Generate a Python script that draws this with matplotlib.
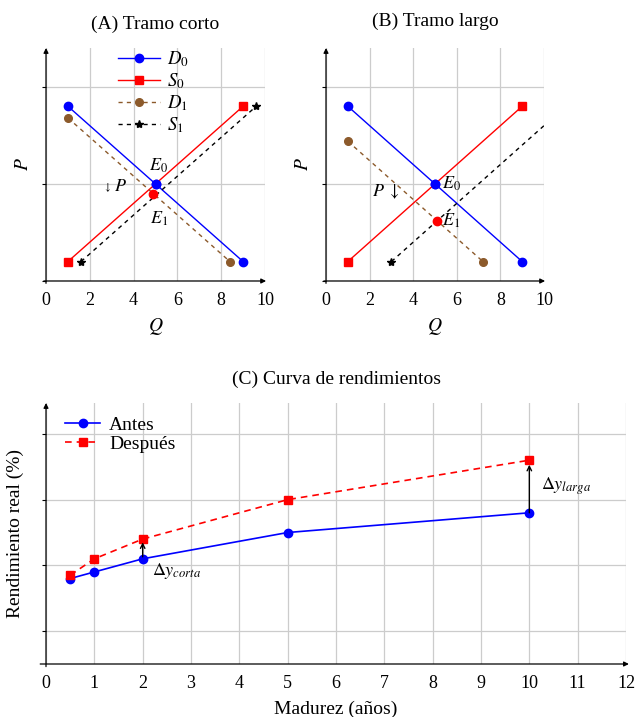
import matplotlib
matplotlib.use("Agg")
import matplotlib.pyplot as plt

plt.rcParams['font.family'] = ['Liberation Serif', 'DejaVu Serif']
plt.rcParams['mathtext.fontset'] = 'stix'

# (A) Tramo corto
a_d0_q = [1, 5, 9]
a_d0_p = [9, 5, 1]
a_s0_q = [1, 9]
a_s0_p = [1, 9]
a_d1_q = [1, 8.4]
a_d1_p = [8.4, 1]
a_s1_q = [1.6, 9.6]
a_s1_p = [1, 9]
a_e1 = (4.9, 4.5)

# (B) Tramo largo
b_d0_q = [1, 5, 9]
b_d0_p = [9, 5, 1]
b_s0_q = [1, 9]
b_s0_p = [1, 9]
b_d1_q = [1, 7.2]
b_d1_p = [7.2, 1]
b_s1_q = [3, 11]
b_s1_p = [1, 9]
b_e1 = (5.1, 3.1)

# (C) Curva de rendimientos
madurez = [0.5, 1, 2, 5, 10]
antes = [1.8, 1.9, 2.1, 2.5, 2.8]
despues = [1.85, 2.1, 2.4, 3.0, 3.6]

BLUE = '#0000ff'
RED = '#ff0000'
BROWN = '#8c5a2b'
GRID = '#cccccc'


def style_axes(ax, xlim, ylim, xticks, yticks):
    ax.set_xlim(*xlim)
    ax.set_ylim(*ylim)
    ax.set_xticks(xticks)
    ax.set_yticks(yticks)
    ax.set_yticklabels([])
    ax.grid(True, color=GRID, lw=0.9)
    ax.set_axisbelow(True)
    for side in ['top', 'right', 'left', 'bottom']:
        ax.spines[side].set_visible(False)
    ax.tick_params(axis='both', direction='out', length=3, width=0.8, labelsize=13, pad=3)
    ax.tick_params(axis='x', length=0, pad=8)
    arrow = dict(arrowstyle='-|>', lw=0.9, color='black', mutation_scale=7, shrinkA=0, shrinkB=0)
    ax.annotate('', xy=(1.005, 0), xytext=(-0.01, 0), xycoords='axes fraction', arrowprops=arrow)
    ax.annotate('', xy=(0, 1.0), xytext=(0, -0.01), xycoords='axes fraction', arrowprops=arrow)


def supply_demand(ax, d0, s0, d1, s1, e1):
    ax.plot(d0[0], d0[1], '-o', color=BLUE, lw=1, ms=6, label='$D_0$', zorder=3)
    ax.plot(s0[0], s0[1], '-s', color=RED, lw=1, ms=6, label='$S_0$', zorder=3)
    ax.plot(d1[0], d1[1], '--o', color=BROWN, lw=1, ms=5.5, dashes=(3, 3), label='$D_1$', zorder=3)
    ax.plot(s1[0], s1[1], '--*', color='black', lw=1, ms=6, dashes=(3, 3), label='$S_1$', zorder=3)
    ax.plot([e1[0]], [e1[1]], 'o', color=RED, ms=6, zorder=4)
    ax.plot([5], [5], 'o', color=BLUE, ms=6, zorder=4)


fig = plt.figure(figsize=(6.36, 7.17), dpi=100)
ax_a = fig.add_axes([46 / 636, 1 - 281 / 717, 219 / 636, 233 / 717])
ax_b = fig.add_axes([326 / 636, 1 - 281 / 717, 218 / 636, 233 / 717])
ax_c = fig.add_axes([46 / 636, 1 - 664 / 717, 580 / 636, 261 / 717])

# --- A ---
style_axes(ax_a, (0, 10), (0, 12), [0, 2, 4, 6, 8, 10], [0, 5, 10])
supply_demand(ax_a, (a_d0_q, a_d0_p), (a_s0_q, a_s0_p), (a_d1_q, a_d1_p), (a_s1_q, a_s1_p), a_e1)
ax_a.text(5.15, 5.95, '$E_0$', fontsize=13, ha='center', va='center')
ax_a.text(5.15, 3.2, '$E_1$', fontsize=13, ha='center', va='center')
ax_a.text(3.0, 4.8, r'$\downarrow$', fontsize=8, ha='right', va='center')
ax_a.text(3.1, 4.85, '$P$', fontsize=13, ha='left', va='center')
ax_a.set_title('(A) Tramo corto', fontsize=14, pad=14)
ax_a.set_xlabel('$Q$', fontsize=14, labelpad=5)
ax_a.set_ylabel('$P$', fontsize=14, labelpad=4)
ax_a.legend(loc='upper left', bbox_to_anchor=(0.27, 1.05), frameon=False, fontsize=13.5,
            handlelength=2.2, handletextpad=0.4, labelspacing=0.12, borderpad=0.2)

# --- B ---
style_axes(ax_b, (0, 10), (0, 12), [0, 2, 4, 6, 8, 10], [0, 5, 10])
supply_demand(ax_b, (b_d0_q, b_d0_p), (b_s0_q, b_s0_p), (b_d1_q, b_d1_p), (b_s1_q, b_s1_p), b_e1)
ax_b.text(5.75, 5.0, '$E_0$', fontsize=13, ha='center', va='center')
ax_b.text(5.75, 3.1, '$E_1$', fontsize=13, ha='center', va='center')
ax_b.text(2.75, 4.6, r'$P\ \downarrow$', fontsize=13, ha='center', va='center')
ax_b.set_title('(B) Tramo largo', fontsize=14, pad=16)
ax_b.set_xlabel('$Q$', fontsize=14, labelpad=5)
ax_b.set_ylabel('$P$', fontsize=14, labelpad=4)

# --- C ---
style_axes(ax_c, (0, 12), (0.5, 4.47), range(0, 13), [1, 2, 3, 4])
ax_c.plot(madurez, antes, '-o', color=BLUE, lw=1.2, ms=6, label='Antes', zorder=3)
ax_c.plot(madurez, despues, '--s', color=RED, lw=1.2, ms=6, dashes=(4, 3), label='Después', zorder=3)
arrow = dict(arrowstyle='->', lw=1, color='black', shrinkA=0, shrinkB=0, mutation_scale=8)
ax_c.annotate('', xy=(2, despues[2] - 0.05), xytext=(2, antes[2] + 0.03), arrowprops=arrow)
ax_c.annotate('', xy=(10, despues[4] - 0.07), xytext=(10, antes[4]), arrowprops=arrow)
ax_c.text(2.2, 1.92, r'$\Delta y_{corta}$', fontsize=13, ha='left', va='center')
ax_c.text(10.25, 3.21, r'$\Delta y_{larga}$', fontsize=13, ha='left', va='center')
ax_c.set_title('(C) Curva de rendimientos', fontsize=14, pad=14)
ax_c.set_xlabel('Madurez (años)', fontsize=14, labelpad=6)
ax_c.set_ylabel('Rendimiento real (%)', fontsize=14, labelpad=10)
ax_c.legend(loc='upper left', bbox_to_anchor=(0.01, 1.0), frameon=False, fontsize=14,
            handlelength=1.8, handletextpad=0.45, labelspacing=0.05, borderpad=0.2)

fig.savefig('out.png', dpi=100)
